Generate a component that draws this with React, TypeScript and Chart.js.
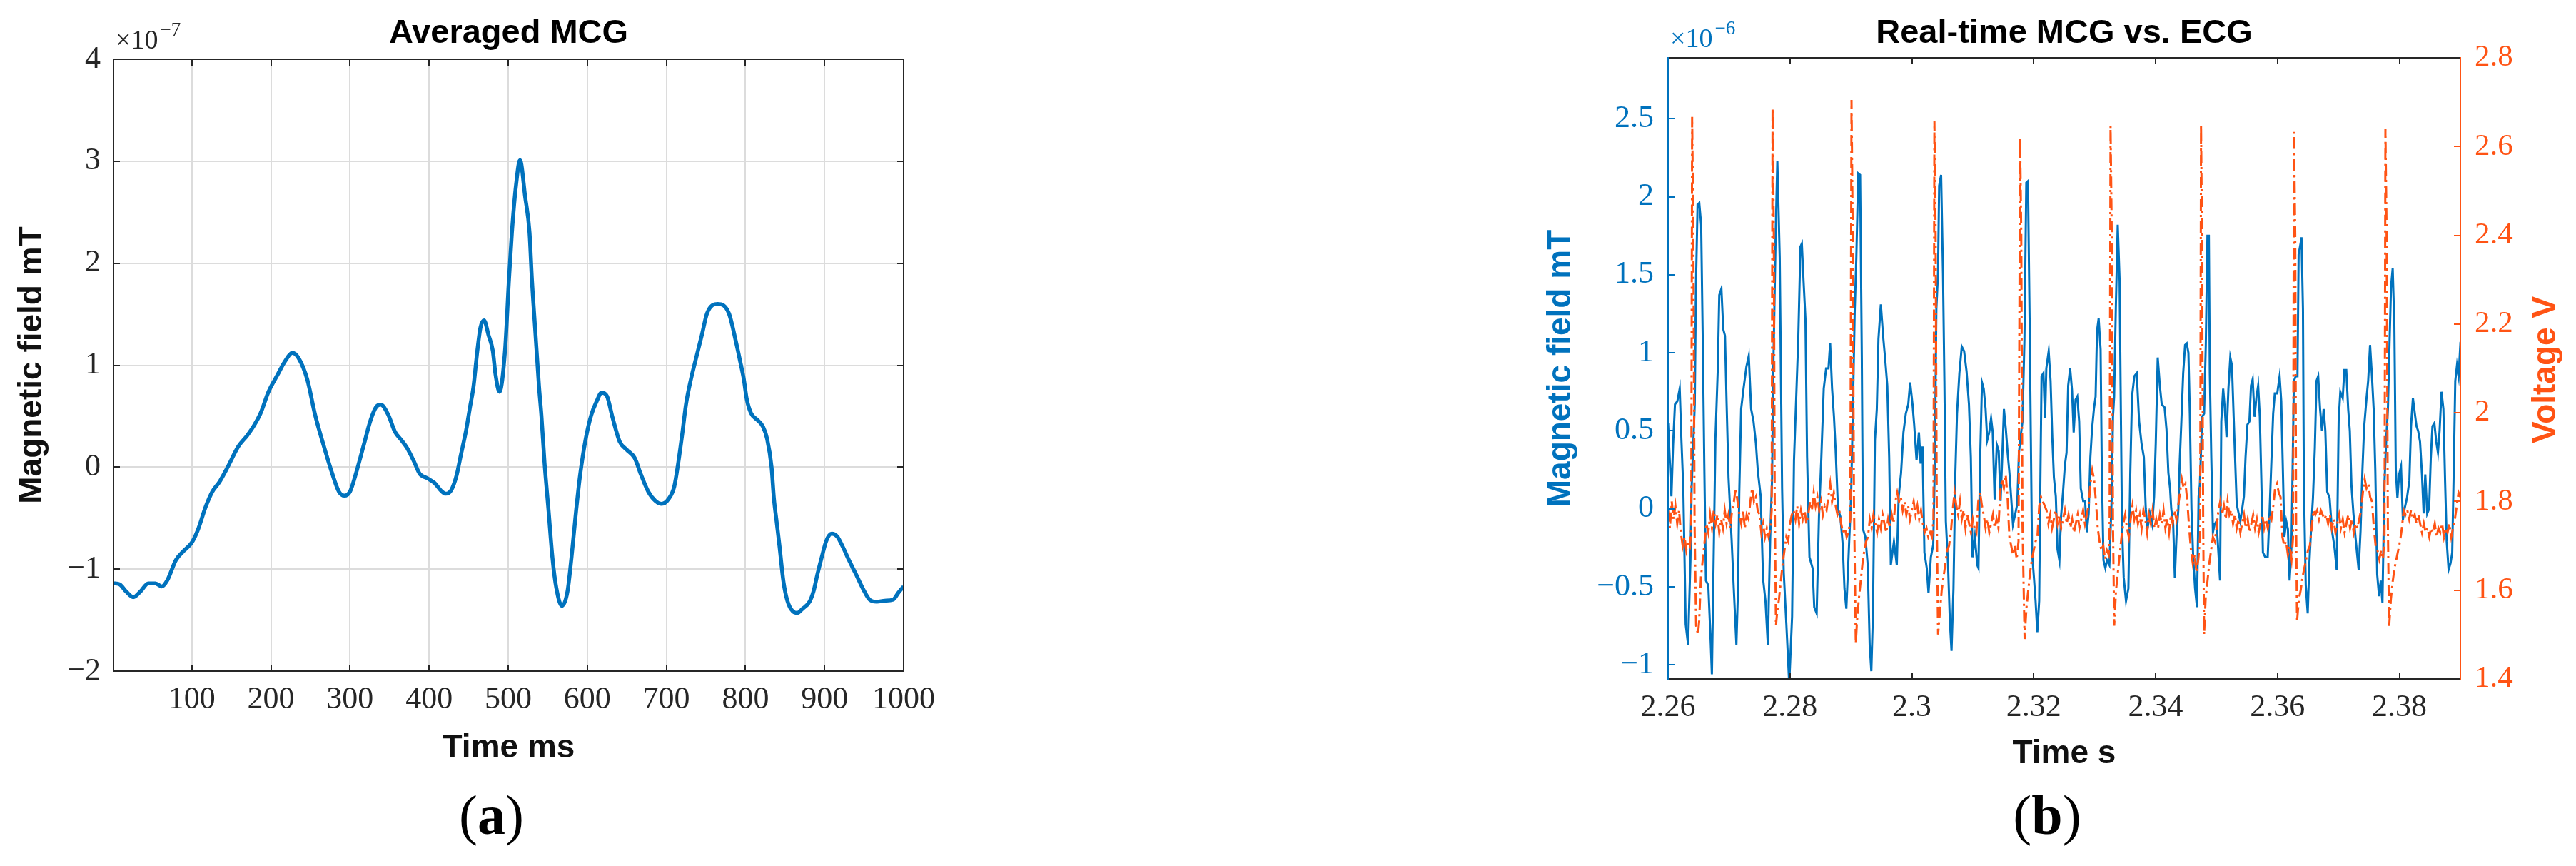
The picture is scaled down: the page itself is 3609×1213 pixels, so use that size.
import React, { useEffect, useRef } from "react";
import { Chart, registerables } from "chart.js";

Chart.register(...registerables);

// ---------------- Panel (a): averaged MCG ----------------
// time in ms, field in units of 1e-7 mT
const avgTimeMs = [
  1, 8.7, 17, 26, 35, 45, 54, 62, 69, 80, 90, 100, 107, 118, 126, 135, 145, 159, 170, 178,
  187, 197, 208, 218, 227, 235, 246, 256, 267, 277, 286, 293, 300, 308, 317, 326, 333, 339, 348, 357,
  364, 372, 381, 388, 398, 407, 416, 421, 428, 435, 440, 447, 452, 456, 461, 465, 469.5, 475, 480.6, 484,
  489, 496, 501, 504.7, 510, 515, 521.5, 527, 530, 534, 539, 542, 546, 551, 556, 561, 568, 575, 580, 586,
  591, 598, 605, 612, 618, 625, 632, 641, 650, 660, 668, 677, 686, 694, 703, 710, 715, 720, 725, 731,
  736, 745, 751.5, 765, 779, 788, 793, 798, 801.6, 807, 815.5, 822, 827.5, 833, 836, 839.5, 843, 848, 853, 860,
  865.5, 872, 881, 886, 891, 897, 902, 909, 916, 922.6, 931, 940, 948.6, 957, 966, 976, 986.6, 993.5, 1000,
];
const avgField = [
  -1.14, -1.15, -1.22, -1.275, -1.22, -1.14, -1.14, -1.17, -1.11, -0.91, -0.82, -0.74, -0.63, -0.38, -0.24, -0.145, -0.005, 0.205, 0.31, 0.4,
  0.53, 0.74, 0.9, 1.04, 1.12, 1.07, 0.86, 0.51, 0.205, -0.05, -0.24, -0.28, -0.24, -0.05, 0.205, 0.46, 0.59, 0.613, 0.52, 0.345,
  0.275, 0.19, 0.054, -0.063, -0.11, -0.156, -0.238, -0.261, -0.226, -0.075, 0.112, 0.368, 0.6, 0.78, 1.14, 1.37, 1.44, 1.3, 1.14, 0.91,
  0.74, 1.14, 1.84, 2.3, 2.77, 3.01, 2.65, 2.3, 1.84, 1.37, 0.79, 0.51, 0.04, -0.42, -0.89, -1.19, -1.36, -1.22, -0.89, -0.42,
  -0.075, 0.275, 0.51, 0.648, 0.73, 0.695, 0.485, 0.25, 0.17, 0.089, -0.075, -0.238, -0.33, -0.36, -0.31, -0.19, 0.04, 0.32, 0.625, 0.86,
  1.02, 1.3, 1.51, 1.6, 1.51, 1.23, 1.05, 0.86, 0.67, 0.53, 0.46, 0.4, 0.275, 0.0, -0.31, -0.54, -0.77, -1.12, -1.31, -1.415,
  -1.43, -1.39, -1.32, -1.22, -1.05, -0.867, -0.727, -0.653, -0.68, -0.774, -0.914, -1.054, -1.193, -1.3, -1.32, -1.31, -1.3, -1.23, -1.17,
];
const avgXTicks = [100, 200, 300, 400, 500, 600, 700, 800, 900, 1000];
const avgYTicks = [-2, -1, 0, 1, 2, 3, 4];

// ---------------- Panel (b): real-time MCG vs ECG ----------------
const rtStartSec = 2.26;
// [time offset from 2.26 s in ms, field in units of 1e-6 mT]
const mcgSamples: [number, number][] = [
  [0.0, 0.55], [0.55, 0.08], [0.82, 0.41], [1.13, 0.67], [1.52, 0.69], [1.91, 0.77], [2.19, 0.44], [2.5, 0.13], [2.89, -0.74], [3.28, -0.87],
  [3.67, -0.33], [3.87, 0.14], [4.38, 0.67], [4.57, 1.42], [4.84, 1.95], [5.12, 1.96], [5.43, 1.82], [5.7, 1.06], [5.94, 0.29], [6.21, -0.46],
  [6.6, -0.49], [6.99, -0.85], [7.19, -1.06], [7.58, -0.05], [7.77, 0.45], [8.16, 0.9], [8.4, 1.37], [8.75, 1.41], [9.06, 1.15], [9.34, 1.11],
  [9.61, 0.67], [9.92, 0.2], [10.43, -0.2], [10.78, -0.51], [11.21, -0.87], [11.48, -0.51], [11.68, 0.1], [11.99, 0.64], [12.38, 0.77], [12.85, 0.91],
  [13.24, 0.98], [13.63, 0.64], [14.02, 0.56], [14.41, 0.42], [14.73, 0.24], [15.2, 0.08], [15.59, -0.45], [15.98, -0.59], [16.37, -0.87], [16.76, -0.18],
  [17.07, 0.2], [17.23, 0.81], [17.66, 1.77], [17.93, 2.23], [18.32, 1.61], [18.71, 0.13], [18.98, -0.41], [19.41, -0.74], [19.88, -1.12], [20.35, -0.69],
  [20.66, 0.31], [21.05, 0.74], [21.37, 1.1], [21.72, 1.68], [21.95, 1.7], [22.23, 1.46], [22.54, 1.22], [22.81, 0.33], [23.2, -0.31], [23.71, -0.38],
  [23.98, -0.63], [24.38, -0.67], [24.76, -0.05], [25.15, 0.33], [25.54, 0.77], [25.93, 0.9], [26.32, 0.9], [26.59, 1.06], [26.91, 0.77], [27.22, 0.59],
  [27.49, 0.38], [27.88, 0.0], [28.27, -0.05], [28.66, -0.23], [28.94, -0.51], [29.25, -0.64], [29.64, -0.28], [30.03, 0.08], [30.34, 0.67], [30.62, 1.26],
  [30.89, 1.61], [31.2, 2.15], [31.51, 2.14], [31.79, 0.97], [31.98, -0.13], [32.37, -0.18], [32.76, -0.36], [33.08, -0.87], [33.35, -1.04], [33.62, -0.67],
  [33.94, 0.44], [34.25, 0.64], [34.52, 1.09], [34.91, 1.31], [35.3, 1.1], [35.62, 0.96], [35.97, 0.79], [36.28, 0.33], [36.55, -0.36], [37.06, -0.21],
  [37.53, -0.36], [37.84, 0.08], [38.23, 0.23], [38.62, 0.49], [39.01, 0.61], [39.41, 0.67], [39.72, 0.81], [40.11, 0.67], [40.38, 0.54], [40.77, 0.31],
  [41.16, 0.49], [41.44, 0.29], [41.75, 0.4], [42.06, -0.28], [42.45, -0.38], [42.73, -0.54], [43.12, -0.31], [43.51, -0.23], [43.78, 0.31], [44.02, 1.28],
  [44.29, 1.51], [44.48, 2.07], [44.8, 2.14], [45.11, 1.51], [45.34, 0.82], [45.58, -0.08], [45.93, -0.35], [46.24, -0.72], [46.51, -0.91], [46.83, -0.51],
  [47.14, 0.23], [47.41, 0.61], [47.8, 0.87], [48.19, 1.04], [48.58, 1.01], [48.98, 0.88], [49.37, 0.67], [49.68, 0.33], [49.95, -0.31], [50.34, -0.18],
  [50.73, -0.36], [50.93, -0.38], [51.2, 0.31], [51.51, 0.81], [51.79, 0.77], [52.1, 0.64], [52.37, 0.44], [52.69, 0.49], [53.0, 0.58], [53.27, 0.49],
  [53.58, 0.06], [53.94, 0.41], [54.25, 0.37], [54.56, 0.05], [54.83, 0.33], [55.11, 0.64], [55.42, 0.51], [55.73, 0.35], [56.01, 0.23], [56.28, 0.08],
  [56.59, -0.1], [56.98, -0.03], [57.29, 0.03], [57.57, 0.36], [57.84, 0.46], [58.15, 0.56], [58.47, 1.08], [58.78, 2.09], [59.05, 2.1], [59.33, 1.18],
  [59.52, 0.46], [59.72, -0.28], [60.03, -0.44], [60.3, -0.59], [60.58, -0.79], [60.89, -0.59], [61.08, 0.15], [61.28, 0.85], [61.59, 0.87], [61.86, 0.58],
  [62.06, 0.9], [62.45, 1.01], [62.76, 0.82], [63.04, 0.46], [63.31, 0.2], [63.62, 0.08], [63.9, -0.26], [64.21, -0.33], [64.48, -0.05], [64.79, 0.1],
  [65.11, 0.28], [65.38, 0.36], [65.65, 0.79], [65.97, 0.9], [66.28, 0.76], [66.55, 0.49], [66.86, 0.7], [67.14, 0.72], [67.45, 0.56], [67.72, 0.13],
  [68.11, 0.05], [68.43, 0.05], [68.7, -0.15], [69.01, -0.03], [69.29, 0.33], [69.56, 0.51], [69.87, 0.64], [70.15, 0.72], [70.38, 1.14], [70.65, 1.22],
  [70.97, 1.02], [71.16, 0.28], [71.44, -0.33], [71.75, -0.38], [72.02, -0.33], [72.41, -0.36], [72.8, 0.08], [73.0, 0.59], [73.19, 0.72], [73.47, 1.29],
  [73.78, 1.82], [74.09, 1.46], [74.25, 0.79], [74.48, -0.1], [74.76, -0.44], [75.14, -0.59], [75.53, -0.51], [75.84, 0.23], [76.12, 0.72], [76.51, 0.85],
  [76.9, 0.87], [77.29, 0.56], [77.68, 0.42], [78.07, 0.33], [78.38, 0.0], [78.66, -0.13], [79.05, -0.03], [79.44, -0.1], [79.75, 0.08], [80.02, 0.42],
  [80.34, 0.97], [80.69, 0.79], [81.0, 0.67], [81.47, 0.65], [81.78, 0.51], [82.09, 0.23], [82.37, 0.13], [82.56, 0.0], [82.88, -0.1], [83.15, -0.44],
  [83.42, -0.18], [83.73, 0.0], [83.93, 0.28], [84.2, 0.54], [84.52, 0.87], [84.83, 1.05], [85.1, 1.06], [85.38, 1.0], [85.61, 0.61], [85.88, 0.0],
  [86.16, -0.31], [86.47, -0.51], [86.78, -0.63], [87.05, 0.08], [87.25, 0.15], [87.64, 0.59], [87.95, 0.61], [88.23, 1.05], [88.5, 1.75], [88.73, 1.75],
  [88.89, 0.87], [89.13, 0.33], [89.4, -0.15], [89.67, -0.1], [89.98, -0.08], [90.3, -0.28], [90.57, -0.46], [90.77, 0.56], [91.08, 0.77], [91.35, 0.64],
  [91.63, 0.46], [91.94, 0.77], [92.25, 0.97], [92.52, 0.92], [92.8, 0.59], [93.03, 0.33], [93.3, 0.03], [93.62, -0.03], [93.89, -0.08], [94.2, 0.0],
  [94.48, 0.08], [94.75, 0.33], [95.06, 0.54], [95.38, 0.56], [95.65, 0.79], [95.92, 0.83], [96.23, 0.59], [96.55, 0.72], [96.82, 0.79], [97.09, 0.59],
  [97.33, 0.2], [97.6, -0.28], [97.99, -0.31], [98.38, -0.31], [98.66, -0.05], [98.97, 0.28], [99.28, 0.61], [99.55, 0.74], [99.95, 0.74], [100.34, 0.85],
  [100.61, 0.69], [100.84, 0.31], [101.12, -0.18], [101.43, -0.08], [101.7, -0.13], [101.98, -0.46], [102.29, -0.24], [102.68, 0.82], [102.99, 0.85], [103.27, 0.85],
  [103.46, 1.63], [103.78, 1.7], [103.93, 1.74], [104.17, 1.28], [104.32, 0.15], [104.63, -0.49], [104.95, -0.67], [105.22, -0.35], [105.49, -0.14], [105.81, 0.07],
  [106.12, 0.39], [106.39, 0.82], [106.67, 0.85], [106.98, 0.64], [107.29, 0.5], [107.56, 0.64], [107.84, 0.5], [108.15, 0.11], [108.54, 0.07], [108.93, -0.14],
  [109.32, -0.24], [109.71, -0.39], [110.03, 0.57], [110.3, 0.75], [110.69, 0.71], [110.96, 0.89], [111.28, 0.89], [111.59, 0.64], [111.86, 0.5], [112.13, 0.15],
  [112.45, -0.03], [112.76, -0.17], [113.03, -0.28], [113.31, -0.39], [113.62, -0.14], [113.93, 0.25], [114.2, 0.52], [114.6, 0.71], [114.87, 0.82], [115.18, 1.05],
  [115.49, 0.85], [115.77, 0.64], [116.04, 0.25], [116.35, -0.42], [116.66, -0.56], [116.94, -0.46], [117.21, -0.6], [117.53, 0.15], [117.84, 0.45], [118.11, 0.64],
  [118.38, 1.07], [118.62, 1.42], [118.89, 1.54], [119.17, 1.17], [119.4, 0.25], [119.67, 0.07], [119.95, 0.22], [120.26, 0.27], [120.57, -0.07], [120.84, 0.0],
  [121.24, 0.07], [121.63, 0.18], [121.9, 0.53], [122.21, 0.71], [122.53, 0.61], [122.8, 0.53], [123.07, 0.5], [123.38, 0.43], [123.7, 0.22], [123.97, -0.03],
  [124.24, 0.22], [124.56, -0.03], [124.87, 0.0], [125.14, 0.32], [125.42, 0.53], [125.73, 0.55], [126.04, 0.43], [126.32, 0.36], [126.59, 0.5], [126.9, 0.75],
  [127.21, 0.64], [127.49, 0.18], [127.76, -0.21], [128.07, -0.39], [128.38, -0.35], [128.66, -0.28], [128.93, 0.29], [129.16, 0.82], [129.44, 0.92], [129.71, 0.85],
  [130.02, 1.07],
];
// [time offset from 2.26 s in ms, voltage V]
const ecgSamples: [number, number][] = [
  [0.0, 1.78], [0.3, 1.74], [0.6, 1.8], [0.9, 1.76], [1.2, 1.79], [1.5, 1.75], [1.8, 1.78], [2.1, 1.73], [2.4, 1.7], [2.7, 1.72],
  [3.0, 1.69], [3.3, 1.71], [3.6, 1.7], [3.8, 1.74], [3.95, 2.667], [4.15, 2.4], [4.35, 1.75], [4.6, 1.52], [4.9, 1.5], [5.1, 1.53],
  [5.4, 1.63], [5.7, 1.67], [6.0, 1.71], [6.3, 1.75], [6.6, 1.73], [6.9, 1.77], [7.2, 1.74], [7.5, 1.78], [7.8, 1.75], [8.1, 1.77],
  [8.4, 1.73], [8.7, 1.76], [9.0, 1.74], [9.3, 1.78], [9.6, 1.75], [9.9, 1.77], [10.2, 1.74], [10.5, 1.78], [10.8, 1.8], [11.1, 1.83],
  [11.4, 1.8], [11.7, 1.77], [12.0, 1.75], [12.3, 1.78], [12.6, 1.74], [12.9, 1.77], [13.2, 1.76], [13.5, 1.8], [13.8, 1.83], [14.1, 1.8],
  [14.4, 1.81], [14.7, 1.78], [15.0, 1.77], [15.3, 1.73], [15.6, 1.75], [15.9, 1.72], [16.2, 1.74], [16.5, 1.72], [16.8, 1.74], [17.0, 1.78],
  [17.15, 2.687], [17.35, 2.4], [17.5, 1.8], [17.7, 1.52], [17.9, 1.55], [18.2, 1.58], [18.5, 1.62], [18.8, 1.66], [19.1, 1.69], [19.4, 1.72],
  [19.7, 1.71], [20.0, 1.75], [20.3, 1.77], [20.6, 1.78], [20.9, 1.76], [21.2, 1.79], [21.5, 1.75], [21.8, 1.78], [22.1, 1.76], [22.4, 1.78],
  [22.7, 1.75], [23.0, 1.77], [23.3, 1.8], [23.6, 1.78], [23.9, 1.82], [24.2, 1.79], [24.5, 1.81], [24.8, 1.78], [25.1, 1.8], [25.4, 1.77],
  [25.7, 1.79], [26.0, 1.78], [26.3, 1.81], [26.6, 1.84], [26.9, 1.8], [27.2, 1.82], [27.5, 1.79], [27.8, 1.77], [28.1, 1.78], [28.4, 1.75],
  [28.7, 1.73], [29.0, 1.74], [29.3, 1.72], [29.6, 1.73], [29.9, 1.76], [30.1, 2.705], [30.3, 2.4], [30.5, 1.8], [30.8, 1.48], [31.0, 1.53],
  [31.3, 1.58], [31.6, 1.62], [31.9, 1.66], [32.2, 1.69], [32.5, 1.71], [32.8, 1.72], [33.1, 1.76], [33.4, 1.74], [33.7, 1.77], [34.0, 1.75],
  [34.3, 1.73], [34.6, 1.76], [34.9, 1.74], [35.2, 1.77], [35.5, 1.75], [35.8, 1.73], [36.1, 1.76], [36.4, 1.74], [36.7, 1.77], [37.0, 1.75],
  [37.3, 1.8], [37.6, 1.82], [37.9, 1.8], [38.2, 1.81], [38.5, 1.78], [38.8, 1.8], [39.1, 1.77], [39.4, 1.79], [39.7, 1.76], [40.0, 1.78],
  [40.3, 1.8], [40.6, 1.77], [40.9, 1.79], [41.2, 1.76], [41.5, 1.78], [41.8, 1.75], [42.1, 1.73], [42.4, 1.74], [42.7, 1.72], [43.0, 1.73],
  [43.3, 1.72], [43.55, 1.76], [43.7, 2.658], [43.9, 2.4], [44.1, 1.75], [44.3, 1.5], [44.6, 1.55], [44.9, 1.6], [45.2, 1.63], [45.5, 1.66],
  [45.8, 1.69], [46.1, 1.7], [46.4, 1.73], [46.7, 1.78], [47.0, 1.82], [47.3, 1.79], [47.6, 1.77], [47.9, 1.8], [48.2, 1.76], [48.5, 1.78],
  [48.8, 1.74], [49.1, 1.77], [49.4, 1.75], [49.7, 1.73], [50.0, 1.76], [50.3, 1.74], [50.6, 1.73], [50.9, 1.8], [51.2, 1.82], [51.5, 1.79],
  [51.8, 1.77], [52.1, 1.74], [52.4, 1.76], [52.7, 1.73], [53.0, 1.75], [53.3, 1.77], [53.6, 1.74], [53.9, 1.76], [54.2, 1.74], [54.5, 1.82],
  [54.8, 1.85], [55.1, 1.83], [55.4, 1.86], [55.7, 1.81], [56.0, 1.72], [56.3, 1.7], [56.6, 1.68], [56.9, 1.7], [57.2, 1.67], [57.5, 1.71],
  [57.76, 2.62], [57.95, 2.4], [58.15, 1.75], [58.5, 1.49], [58.8, 1.56], [59.1, 1.6], [59.4, 1.64], [59.7, 1.67], [60.0, 1.69], [60.3, 1.71],
  [60.6, 1.72], [60.9, 1.79], [61.2, 1.81], [61.5, 1.8], [61.8, 1.79], [62.1, 1.78], [62.4, 1.75], [62.7, 1.77], [63.0, 1.74], [63.3, 1.76],
  [63.6, 1.78], [63.9, 1.75], [64.2, 1.77], [64.5, 1.74], [64.8, 1.76], [65.1, 1.78], [65.4, 1.75], [65.7, 1.77], [66.0, 1.74], [66.3, 1.76],
  [66.6, 1.73], [66.9, 1.75], [67.2, 1.77], [67.5, 1.74], [67.8, 1.76], [68.1, 1.78], [68.4, 1.75], [68.7, 1.77], [69.0, 1.79], [69.3, 1.84],
  [69.6, 1.87], [69.9, 1.85], [70.2, 1.8], [70.5, 1.74], [70.8, 1.71], [71.1, 1.69], [71.4, 1.7], [71.7, 1.67], [72.0, 1.69], [72.3, 1.68],
  [72.45, 1.74], [72.6, 2.647], [72.8, 2.4], [73.0, 1.75], [73.2, 1.52], [73.5, 1.6], [73.8, 1.64], [74.1, 1.68], [74.4, 1.72], [74.7, 1.75],
  [75.0, 1.77], [75.3, 1.74], [75.6, 1.72], [75.9, 1.76], [76.2, 1.79], [76.5, 1.76], [76.8, 1.78], [77.1, 1.75], [77.4, 1.77], [77.7, 1.74],
  [78.0, 1.78], [78.3, 1.76], [78.6, 1.73], [78.9, 1.77], [79.2, 1.75], [79.5, 1.78], [79.8, 1.74], [80.1, 1.76], [80.4, 1.74], [80.7, 1.77],
  [81.0, 1.75], [81.3, 1.78], [81.6, 1.74], [81.9, 1.76], [82.2, 1.73], [82.5, 1.77], [82.8, 1.75], [83.1, 1.78], [83.4, 1.76], [83.7, 1.79],
  [84.0, 1.82], [84.3, 1.85], [84.6, 1.83], [84.9, 1.84], [85.2, 1.8], [85.5, 1.74], [85.8, 1.69], [86.1, 1.66], [86.4, 1.68], [86.7, 1.64],
  [87.0, 1.67], [87.3, 1.72], [87.45, 2.647], [87.6, 2.4], [87.8, 1.75], [87.95, 1.5], [88.2, 1.58], [88.5, 1.62], [88.8, 1.66], [89.1, 1.69],
  [89.4, 1.72], [89.7, 1.71], [90.0, 1.74], [90.3, 1.78], [90.6, 1.8], [90.9, 1.77], [91.2, 1.79], [91.5, 1.76], [91.8, 1.8], [92.1, 1.77],
  [92.4, 1.78], [92.7, 1.75], [93.0, 1.77], [93.3, 1.74], [93.6, 1.76], [93.9, 1.73], [94.2, 1.75], [94.5, 1.77], [94.8, 1.74], [95.1, 1.76],
  [95.4, 1.73], [95.7, 1.75], [96.0, 1.77], [96.3, 1.74], [96.6, 1.76], [96.9, 1.73], [97.2, 1.75], [97.5, 1.77], [97.8, 1.74], [98.1, 1.76],
  [98.4, 1.74], [98.7, 1.77], [99.0, 1.76], [99.3, 1.79], [99.6, 1.83], [99.9, 1.84], [100.2, 1.82], [100.5, 1.81], [100.8, 1.72], [101.1, 1.7],
  [101.4, 1.71], [101.7, 1.68], [102.0, 1.7], [102.3, 1.67], [102.55, 1.72], [102.7, 2.633], [102.9, 2.4], [103.05, 1.75], [103.2, 1.53], [103.5, 1.58],
  [103.8, 1.6], [104.1, 1.63], [104.4, 1.65], [104.7, 1.67], [105.0, 1.69], [105.3, 1.7], [105.6, 1.74], [105.9, 1.78], [106.2, 1.77], [106.5, 1.78],
  [106.8, 1.76], [107.1, 1.78], [107.4, 1.77], [107.7, 1.76], [108.0, 1.77], [108.3, 1.75], [108.6, 1.77], [108.9, 1.74], [109.2, 1.76], [109.5, 1.73],
  [109.8, 1.75], [110.1, 1.77], [110.4, 1.74], [110.7, 1.76], [111.0, 1.73], [111.3, 1.75], [111.6, 1.77], [111.9, 1.74], [112.2, 1.76], [112.5, 1.73],
  [112.8, 1.75], [113.1, 1.74], [113.4, 1.76], [113.7, 1.78], [114.0, 1.82], [114.3, 1.85], [114.6, 1.83], [114.9, 1.84], [115.2, 1.81], [115.5, 1.8],
  [115.8, 1.74], [116.1, 1.7], [116.4, 1.69], [116.7, 1.67], [117.0, 1.69], [117.3, 1.67], [117.55, 1.72], [117.7, 2.64], [117.9, 2.4], [118.1, 1.75],
  [118.3, 1.516], [118.6, 1.58], [118.9, 1.62], [119.2, 1.65], [119.5, 1.67], [119.8, 1.69], [120.1, 1.71], [120.4, 1.74], [120.7, 1.78], [121.0, 1.77],
  [121.3, 1.78], [121.6, 1.76], [121.9, 1.78], [122.2, 1.76], [122.5, 1.77], [122.8, 1.75], [123.1, 1.77], [123.4, 1.75], [123.7, 1.73], [124.0, 1.75],
  [124.3, 1.73], [124.6, 1.74], [124.9, 1.72], [125.2, 1.74], [125.5, 1.73], [125.8, 1.75], [126.1, 1.72], [126.4, 1.74], [126.7, 1.73], [127.0, 1.75],
  [127.3, 1.72], [127.6, 1.74], [127.9, 1.73], [128.2, 1.75], [128.5, 1.72], [128.8, 1.74], [129.1, 1.76], [129.4, 1.79], [129.7, 1.82], [130.0, 1.81],
];
const rtXTicks = [2.26, 2.28, 2.3, 2.32, 2.34, 2.36, 2.38];
const rtYLeftTicks = [-1, -0.5, 0, 0.5, 1, 1.5, 2, 2.5];
const rtYRightTicks = [1.4, 1.6, 1.8, 2.0, 2.2, 2.4, 2.6, 2.8];

// ---------------- styling ----------------
const BLUE = "#0072BD";
const ORANGE = "#FF5314";
const AXIS = "#262626";
const GRID = "#DCDCDC";
const LABEL = "#111111";
const SANS = '"Liberation Sans", Arial, Helvetica, sans-serif';
const SERIF = '"Liberation Serif", "Times New Roman", serif';

const fmt = (v: number) => {
  const s = String(parseFloat(Number(v).toFixed(2)));
  return s.startsWith("-") ? "\u2212" + s.slice(1) : s;
};

const fixSize = (w?: number, h?: number) => (scale: any) => {
  if (w !== undefined) scale.width = w;
  if (h !== undefined) scale.height = h;
  scale.paddingLeft = 0;
  scale.paddingRight = 0;
  scale.paddingTop = 0;
  scale.paddingBottom = 0;
};

const setTicks = (vals: number[]) => (scale: any) => {
  scale.ticks = vals.map((v) => ({ value: v }));
};

function drawExponent(ctx: CanvasRenderingContext2D, x: number, base: number, sup: string, color: string) {
  ctx.save();
  ctx.fillStyle = color;
  ctx.textAlign = "left";
  ctx.textBaseline = "alphabetic";
  ctx.font = `38px ${SERIF}`;
  ctx.fillText("\u00D710", x, base);
  const w = ctx.measureText("\u00D710").width;
  ctx.font = `27px ${SERIF}`;
  ctx.fillText(sup, x + w + 3, base - 18);
  ctx.restore();
}

function drawPanelLabel(ctx: CanvasRenderingContext2D, cx: number, base: number, letter: string) {
  ctx.save();
  ctx.fillStyle = "#000";
  ctx.textBaseline = "alphabetic";
  ctx.textAlign = "left";
  const reg = `78px ${SERIF}`;
  const bold = `bold 78px ${SERIF}`;
  ctx.font = reg;
  const wo = ctx.measureText("(").width;
  const wc = ctx.measureText(")").width;
  ctx.font = bold;
  const wl = ctx.measureText(letter).width;
  let x = cx - (wo + wl + wc) / 2;
  ctx.font = reg;
  ctx.fillText("(", x, base);
  x += wo;
  ctx.font = bold;
  ctx.fillText(letter, x, base);
  x += wl;
  ctx.font = reg;
  ctx.fillText(")", x, base);
  ctx.restore();
}

function drawTitle(ctx: CanvasRenderingContext2D, cx: number, base: number, text: string) {
  ctx.save();
  ctx.fillStyle = "#000";
  ctx.font = `bold 47px ${SANS}`;
  ctx.textAlign = "center";
  ctx.textBaseline = "alphabetic";
  ctx.fillText(text, cx, base);
  ctx.restore();
}

type FrameCfg = {
  top: string;
  bottom: string;
  left: string;
  right: string;
  rightScale?: string;
  mirrorY: boolean;
  texts: (ctx: CanvasRenderingContext2D, a: any) => void;
};

const makeFramePlugin = (cfg: FrameCfg) => ({
  id: "matlabFrame",
  afterDatasetsDraw(chart: any) {
    const { ctx, chartArea: a } = chart;
    const L = 9;
    ctx.save();
    ctx.lineWidth = 2;
    ctx.lineCap = "butt";
    const xs = chart.scales.x;
    for (const t of xs.ticks) {
      const px = Math.round(xs.getPixelForValue(t.value));
      ctx.strokeStyle = cfg.bottom;
      ctx.beginPath();
      ctx.moveTo(px, a.bottom);
      ctx.lineTo(px, a.bottom - L);
      ctx.stroke();
      ctx.strokeStyle = cfg.top;
      ctx.beginPath();
      ctx.moveTo(px, a.top);
      ctx.lineTo(px, a.top + L);
      ctx.stroke();
    }
    const ys = chart.scales.y;
    for (const t of ys.ticks) {
      const py = Math.round(ys.getPixelForValue(t.value));
      ctx.strokeStyle = cfg.left;
      ctx.beginPath();
      ctx.moveTo(a.left, py);
      ctx.lineTo(a.left + L, py);
      ctx.stroke();
      if (cfg.mirrorY) {
        ctx.strokeStyle = cfg.right;
        ctx.beginPath();
        ctx.moveTo(a.right, py);
        ctx.lineTo(a.right - L, py);
        ctx.stroke();
      }
    }
    if (cfg.rightScale) {
      const rs = chart.scales[cfg.rightScale];
      for (const t of rs.ticks) {
        const py = Math.round(rs.getPixelForValue(t.value));
        ctx.strokeStyle = cfg.right;
        ctx.beginPath();
        ctx.moveTo(a.right, py);
        ctx.lineTo(a.right - L, py);
        ctx.stroke();
      }
    }
    ctx.lineWidth = 2;
    ctx.strokeStyle = cfg.top;
    ctx.beginPath();
    ctx.moveTo(a.left - 1, a.top);
    ctx.lineTo(a.right + 1, a.top);
    ctx.stroke();
    ctx.strokeStyle = cfg.bottom;
    ctx.beginPath();
    ctx.moveTo(a.left - 1, a.bottom);
    ctx.lineTo(a.right + 1, a.bottom);
    ctx.stroke();
    ctx.strokeStyle = cfg.left;
    ctx.beginPath();
    ctx.moveTo(a.left, a.top - 1);
    ctx.lineTo(a.left, a.bottom + 1);
    ctx.stroke();
    ctx.strokeStyle = cfg.right;
    ctx.beginPath();
    ctx.moveTo(a.right, a.top - 1);
    ctx.lineTo(a.right, a.bottom + 1);
    ctx.stroke();
    ctx.restore();
  },
  afterDraw(chart: any) {
    cfg.texts(chart.ctx, chart.chartArea);
  },
});

const tickFont = (size: number) => ({ family: SERIF, size });
const titleFont = { family: SANS, size: 46, weight: "bold" as const };

const A_WIDTH = 1400;

function configA(): any {
  return {
    type: "line",
    data: {
      datasets: [
        {
          data: avgTimeMs.map((t, i) => ({ x: t, y: avgField[i] })),
          borderColor: BLUE,
          borderWidth: 5.5,
          pointRadius: 0,
          fill: false,
          cubicInterpolationMode: "monotone",
          clip: 0,
        },
      ],
    },
    options: {
      responsive: false,
      maintainAspectRatio: false,
      animation: false,
      devicePixelRatio: 1,
      events: [],
      layout: { padding: { top: 83, left: 0, right: A_WIDTH - 1266, bottom: 0 } },
      plugins: { legend: { display: false }, tooltip: { enabled: false }, title: { display: false } },
      scales: {
        x: {
          type: "linear",
          min: 1,
          max: 1000,
          afterBuildTicks: setTicks(avgXTicks),
          afterFit: fixSize(undefined, 273),
          grid: { color: GRID, lineWidth: 2, drawTicks: false },
          border: { display: false },
          ticks: {
            color: AXIS,
            font: tickFont(44),
            padding: 14,
            maxRotation: 0,
            minRotation: 0,
            autoSkip: false,
            callback: (v: number) => fmt(v),
          },
          title: { display: true, text: "Time ms", color: LABEL, font: titleFont, padding: { top: 0, bottom: 137 } },
        },
        y: {
          type: "linear",
          min: -2,
          max: 4,
          afterBuildTicks: setTicks(avgYTicks),
          afterFit: fixSize(159),
          grid: { color: GRID, lineWidth: 2, drawTicks: false },
          border: { display: false },
          ticks: { color: AXIS, font: tickFont(44), padding: 18, autoSkip: false, callback: (v: number) => fmt(v) },
          title: { display: true, text: "Magnetic field mT", color: LABEL, font: titleFont, padding: { top: 18, bottom: 0 } },
        },
      },
    },
    plugins: [
      makeFramePlugin({
        top: AXIS,
        bottom: AXIS,
        left: AXIS,
        right: AXIS,
        mirrorY: true,
        texts: (ctx, a) => {
          drawTitle(ctx, (a.left + a.right) / 2, 60, "Averaged MCG");
          drawExponent(ctx, a.left + 3, 68, "\u22127", AXIS);
          drawPanelLabel(ctx, (a.left + a.right) / 2 - 24, 1168, "a");
        },
      }),
    ],
  };
}

function configB(): any {
  const mcg = mcgSamples.map(([ms, v]) => ({ x: rtStartSec + ms / 1000, y: v }));
  const ecg = ecgSamples.map(([ms, v]) => ({ x: rtStartSec + ms / 1000, y: v }));
  return {
    type: "line",
    data: {
      datasets: [
        {
          data: ecg,
          yAxisID: "y1",
          borderColor: ORANGE,
          borderWidth: 3,
          borderDash: [16, 6, 3, 6],
          pointRadius: 0,
          fill: false,
          tension: 0,
          clip: 0,
        },
        {
          data: mcg,
          yAxisID: "y",
          borderColor: BLUE,
          borderWidth: 3,
          pointRadius: 0,
          fill: false,
          tension: 0,
          clip: 0,
        },
      ],
    },
    options: {
      responsive: false,
      maintainAspectRatio: false,
      animation: false,
      devicePixelRatio: 1,
      events: [],
      layout: { padding: { top: 81, left: 0, right: 0, bottom: 0 } },
      plugins: { legend: { display: false }, tooltip: { enabled: false }, title: { display: false } },
      scales: {
        x: {
          type: "linear",
          min: 2.26,
          max: 2.39,
          afterBuildTicks: setTicks(rtXTicks),
          afterFit: fixSize(undefined, 262),
          grid: { display: false, drawTicks: false },
          border: { display: false },
          ticks: {
            color: AXIS,
            font: tickFont(44),
            padding: 14,
            maxRotation: 0,
            minRotation: 0,
            autoSkip: false,
            callback: (v: number) => fmt(v),
          },
          title: { display: true, text: "Time s", color: LABEL, font: titleFont, padding: { top: 0, bottom: 129 } },
        },
        y: {
          type: "linear",
          position: "left",
          min: -1.09,
          max: 2.89,
          afterBuildTicks: setTicks(rtYLeftTicks),
          afterFit: fixSize(237),
          grid: { display: false, drawTicks: false },
          border: { display: false },
          ticks: { color: BLUE, font: tickFont(44), padding: 20, autoSkip: false, callback: (v: number) => fmt(v) },
          title: { display: true, text: "Magnetic field mT", color: BLUE, font: titleFont, padding: { top: 60, bottom: 0 } },
        },
        y1: {
          type: "linear",
          position: "right",
          min: 1.4,
          max: 2.8,
          afterBuildTicks: setTicks(rtYRightTicks),
          afterFit: fixSize(162),
          grid: { display: false, drawTicks: false },
          border: { display: false },
          ticks: { color: ORANGE, font: tickFont(43), padding: 20, autoSkip: false, callback: (v: number) => fmt(v) },
          title: { display: false },
        },
      },
    },
    plugins: [
      makeFramePlugin({
        top: AXIS,
        bottom: AXIS,
        left: BLUE,
        right: ORANGE,
        rightScale: "y1",
        mirrorY: false,
        texts: (ctx, a) => {
          drawTitle(ctx, (a.left + a.right) / 2, 60, "Real-time MCG vs. ECG");
          drawExponent(ctx, a.left + 3, 66, "\u22126", BLUE);
          drawPanelLabel(ctx, (a.left + a.right) / 2 - 24, 1168, "b");
          ctx.save();
          ctx.translate(a.right + 133, (a.top + a.bottom) / 2 + 2);
          ctx.rotate(-Math.PI / 2);
          ctx.fillStyle = ORANGE;
          ctx.font = `bold 46px ${SANS}`;
          ctx.textAlign = "center";
          ctx.textBaseline = "alphabetic";
          ctx.fillText("Voltage V", 0, 0);
          ctx.restore();
        },
      }),
    ],
  };
}

export default function App() {
  const aRef = useRef<HTMLCanvasElement>(null);
  const bRef = useRef<HTMLCanvasElement>(null);
  useEffect(() => {
    const c1 = new Chart(aRef.current as HTMLCanvasElement, configA());
    const c2 = new Chart(bRef.current as HTMLCanvasElement, configB());
    return () => {
      c1.destroy();
      c2.destroy();
    };
  }, []);
  return (
    <div style={{ position: "fixed", left: 0, top: 0, width: 3609, height: 1213, background: "#fff", overflow: "hidden" }}>
      <canvas
        ref={aRef}
        width={A_WIDTH}
        height={1213}
        style={{ position: "absolute", left: 0, top: 0, width: A_WIDTH, height: 1213 }}
      />
      <canvas
        ref={bRef}
        width={1509}
        height={1213}
        style={{ position: "absolute", left: 2100, top: 0, width: 1509, height: 1213 }}
      />
    </div>
  );
}
